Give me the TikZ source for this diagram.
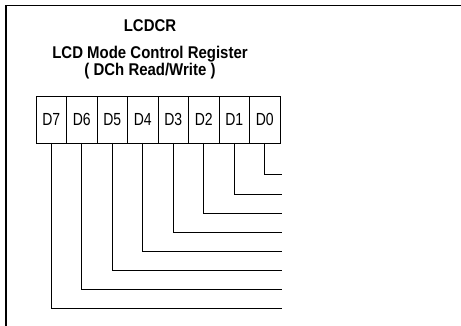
\documentclass[tikz,border=0pt]{standalone}
\usepackage{fontspec}
\setmainfont{Liberation Sans}
\newfontfamily\cellfont[FakeStretch=0.8]{Liberation Sans}
\newfontfamily\titlefont[FakeStretch=0.88]{Liberation Sans}
\usetikzlibrary{positioning}

\begin{document}
\begin{tikzpicture}[x=1pt, y=-1pt,
    title/.style={font=\titlefont\bfseries\fontsize{17}{13.5}\selectfont, align=center},
    bitcell/.style={draw, line width=0.7pt, minimum width=30.5pt, minimum height=47pt,
      inner sep=0pt, outer sep=0pt, font=\cellfont\fontsize{17.5}{17.5}\selectfont},
    wire/.style={line width=1pt}
]
  \useasboundingbox (0,0) rectangle (461,326);

  % Rahmen (oben und links)
  \draw[line width=1.4pt] (461,5.5) -- (6,5.5) -- (6,326);

  % Titel
  \node[title] (name) at (150,25.5) {LCDCR};
  \node[title] (desc) at (150,62.5) {LCD Mode Control Register\\( DCh Read/Write )};

  % Registerzellen D7 ... D0
  \node[bitcell] (d7) at (51.25,119.5) {D7};
  \foreach \i [evaluate=\i as \j using int(\i+1)] in {6,...,0}
    \node[bitcell, right=0pt of d\j] (d\i) {D\i};

  % Leitungen nach rechts
  \foreach \i in {0,...,7}
    \coordinate (e\i) at (282,175+19.14*\i);
  \foreach \i in {0,...,7}
    \draw[wire] (d\i.south) |- (e\i);

\end{tikzpicture}
\end{document}
